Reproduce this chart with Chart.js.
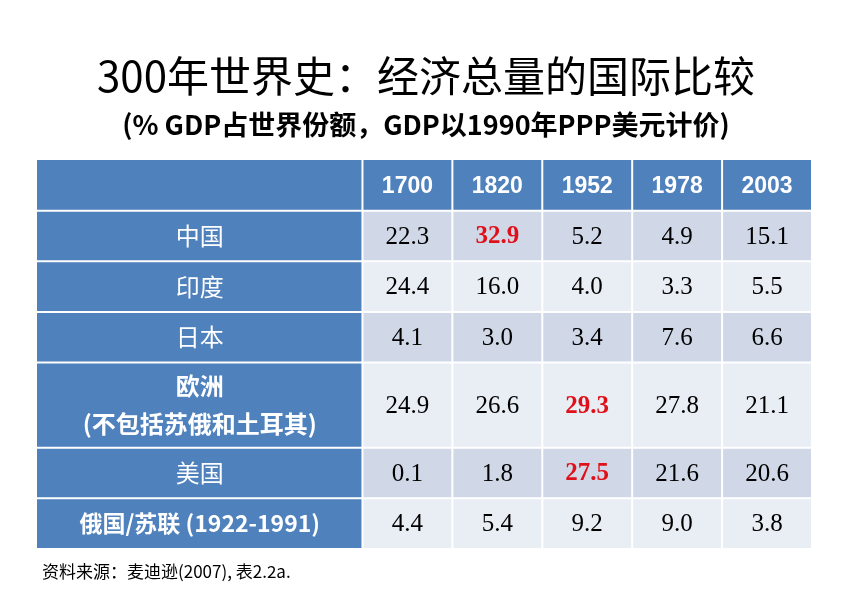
<!DOCTYPE html>
<html><head><meta charset="utf-8">
<script src="https://cdn.jsdelivr.net/npm/chart.js@4"></script>
<style>body{margin:0;background:#fff}#wrap{width:852px;height:594px}</style>
</head><body><div id="wrap"><canvas id="myChart"></canvas></div>
<script>
// table contents
const years = ['1700', '1820', '1952', '1978', '2003'];
const regions = ['中国', '印度', '日本', '欧洲\n(不包括苏俄和土耳其)', '美国', '俄国/苏联 (1922-1991)'];
const china = [22.3, 32.9, 5.2, 4.9, 15.1];
const india = [24.4, 16.0, 4.0, 3.3, 5.5];
const japan = [4.1, 3.0, 3.4, 7.6, 6.6];
const europe = [24.9, 26.6, 29.3, 27.8, 21.1];
const usa = [0.1, 1.8, 27.5, 21.6, 20.6];
const russia = [4.4, 5.4, 9.2, 9.0, 3.8];
const rows = [china, india, japan, europe, usa, russia];
// highlighted cells [row, col]
const highlights = [[0, 1], [3, 2], [4, 2]];

const labelW = 3.62;        // width of label column in x units
const rowH = [1, 1, 1, 1.68, 1, 1];
const headerH = 1;
const totalH = headerH + rowH.reduce((a, b) => a + b, 0);

const points = [];
rows.forEach((r, i) => r.forEach((v, j) => points.push({ x: labelW + j + 0.5, y: i, v: v })));

const tablePlugin = {
    id: 'table',
    afterDatasetsDraw(chart) {
        const c = chart.ctx, xs = chart.scales.x, ys = chart.scales.y;
        const X = v => xs.getPixelForValue(v), Y = v => ys.getPixelForValue(v);
        c.save();
        // titles
        c.fillStyle = '#000';
        c.textAlign = 'center';
        c.textBaseline = 'middle';
        c.font = '42px "Noto Sans CJK SC"';
        c.fillText('300年世界史：经济总量的国际比较', 426, 76);
        c.font = 'bold 27px "Noto Sans CJK SC"';
        c.fillText('(% GDP占世界份额，GDP以1990年PPP美元计价)', 426, 125);
        c.textAlign = 'left';
        c.font = '17px "Noto Sans CJK SC"';
        c.fillText('资料来源：麦迪逊(2007), 表2.2a.', 42, 572);

        const xEnd = labelW + years.length;
        const cell = (x1, y1, x2, y2, fill) => {
            c.fillStyle = fill;
            c.fillRect(X(x1), Y(y1), X(x2) - X(x1), Y(y2) - Y(y1));
        };
        cell(0, 0, xEnd, headerH, '#4F81BD');
        c.textAlign = 'center';
        c.fillStyle = '#fff';
        c.font = 'bold 23px "Liberation Sans"';
        years.forEach((yr, j) => c.fillText(yr, X(labelW + j + 0.5), Y(headerH / 2) + 1));
        let y0 = headerH;
        regions.forEach((name, i) => {
            const y1 = y0 + rowH[i];
            cell(0, y0, labelW, y1, '#4F81BD');
            cell(labelW, y0, xEnd, y1, i % 2 === 0 ? '#D0D8E8' : '#E9EDF4');
            c.fillStyle = '#fff';
            const lines = name.split('\n');
            const ym = Y((y0 + y1) / 2);
            lines.forEach((ln, k) => {
                c.font = (lines.length > 1 ? 'bold ' : '') + '24px "Noto Sans CJK SC"';
                if (i === 5) c.font = 'bold 23px "Noto Sans CJK SC"';
                c.fillText(ln, X(labelW / 2), ym + (k - (lines.length - 1) / 2) * 38);
            });
            rows[i].forEach((v, j) => {
                const hl = highlights.some(h => h[0] === i && h[1] === j);
                c.fillStyle = hl ? '#E0101A' : '#000';
                c.font = (hl ? 'bold ' : '') + '25px "Liberation Serif"';
                c.fillText(v.toFixed(1), X(labelW + j + 0.5), ym + 1);
            });
            y0 = y1;
        });
        // white grid lines
        c.strokeStyle = '#fff';
        c.lineWidth = 2;
        c.beginPath();
        let yy = 0;
        [headerH, ...rowH].forEach(h => { yy += h; c.moveTo(X(0), Y(yy)); c.lineTo(X(xEnd), Y(yy)); });
        for (let j = 0; j <= years.length; j++) { c.moveTo(X(labelW + j), Y(0)); c.lineTo(X(labelW + j), Y(totalH)); }
        c.stroke();
        c.restore();
    }
};

const ctx = document.getElementById('myChart').getContext('2d');
const myChart = new Chart(ctx, {
    type: 'scatter',
    data: { datasets: [{ data: points, pointRadius: 0 }] },
    options: {
        responsive: true,
        maintainAspectRatio: false,
        animation: false,
        layout: { padding: { left: 37, right: 40, top: 160, bottom: 45 } },
        scales: {
            x: { type: 'linear', min: 0, max: labelW + years.length, display: false },
            y: { type: 'linear', min: 0, max: totalH, reverse: true, display: false }
        },
        plugins: { legend: { display: false }, tooltip: { enabled: false } }
    },
    plugins: [tablePlugin]
});
</script></body></html>
